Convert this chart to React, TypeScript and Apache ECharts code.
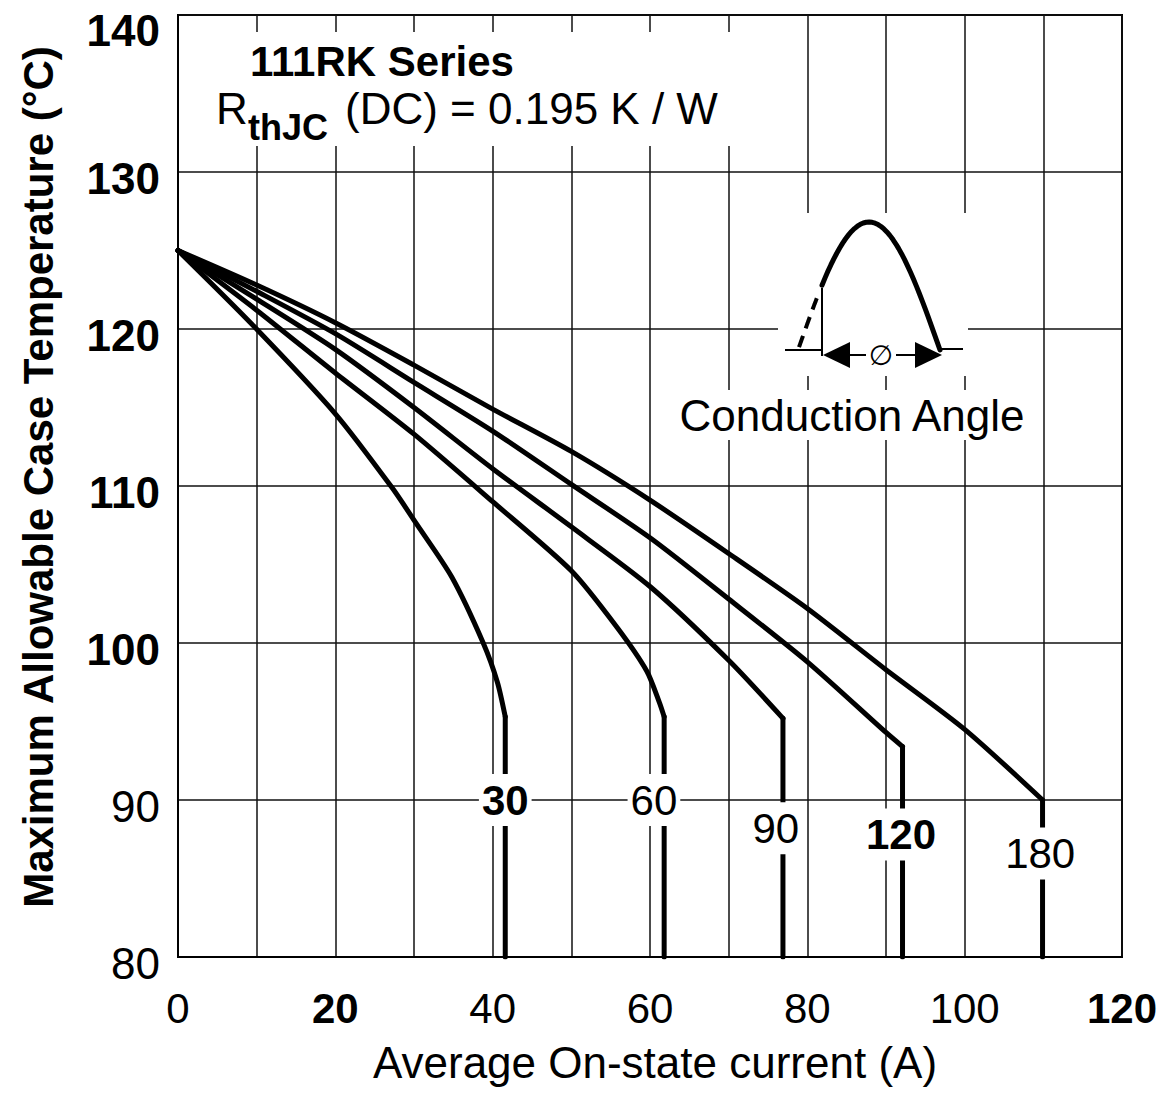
import React, { useEffect, useRef } from "react";
import * as echarts from "echarts";

// ---- data ----
const curveNames = ["30", "60", "90", "120", "180"];
const curve30 = [[0, 125], [9.4, 120.3], [20, 114.6], [27.2, 109.9], [30.3, 107.6], [34.8, 104.2], [38.8, 100.0], [40.6, 97.5], [41.6, 95.3]];
const curve60 = [[0, 125], [10, 121.2], [20, 117.2], [30, 113.3], [40, 109.0], [50, 104.6], [55.8, 101.0], [59.6, 98.2], [61.2, 96.2], [61.8, 95.3]];
const curve90 = [[0, 125], [10, 121.9], [20, 118.7], [30, 115.0], [40, 111.1], [50, 107.4], [60, 103.6], [70, 98.9], [76.9, 95.2]];
const curve120 = [[0, 125], [10, 122.4], [20, 119.7], [30, 116.6], [40, 113.5], [50, 110.1], [60, 106.7], [70, 102.8], [80, 98.8], [90, 94.3], [92.1, 93.4]];
const curve180 = [[0, 125], [10, 122.8], [20, 120.4], [30, 117.7], [40, 114.9], [50, 112.2], [60, 109.1], [70, 105.7], [80, 102.2], [90, 98.3], [100, 94.5], [109.9, 90]];
const curves = [curve30, curve60, curve90, curve120, curve180];
const labelX = [41.6, 60.5, 76.0, 91.9, 109.6];
const labelY = [90, 90, 88.2, 87.8, 86.6];
const labelBold = [true, false, false, true, false];

const xMin = 0, xMax = 120, xStep = 10, xLabelStep = 20;
const yMin = 80, yMax = 140, yStep = 10;
const xBoldTicks = [20, 120];
const yBoldTicks = [140, 130, 120, 110, 100];

const titleLine1 = "111RK Series";
const titleR = "R";
const titleSub = "thJC";
const titleRest = "(DC) = 0.195 K / W";
const insetLabel = "Conduction Angle";
const xName = "Average On-state current (A)";
const yName = "Maximum Allowable Case Temperature (°C)";

const FONT = "'Liberation Sans', Arial, Helvetica, sans-serif";

function sinePts(x0: number, x1: number, zeroL: number, zeroR: number, base: number, amp: number) {
  const pts: number[][] = [];
  const n = 40;
  for (let i = 0; i <= n; i++) {
    const x = x0 + ((x1 - x0) * i) / n;
    const y = base - amp * Math.sin((Math.PI * (x - zeroL)) / (zeroR - zeroL));
    pts.push([x, y]);
  }
  return pts;
}

export default function App() {
  const ref = useRef<HTMLDivElement>(null);
  useEffect(() => {
    if (!ref.current) return;
    const chart = echarts.init(ref.current, undefined, { renderer: "svg" });

    const series: any[] = [];
    curves.forEach((c, i) => {
      const last = c[c.length - 1];
      series.push({
        type: "line",
        name: curveNames[i],
        data: c,
        showSymbol: false,
        symbol: "none",
        smooth: 0.25,
        z: 3,
        lineStyle: { color: "#000", width: 5, join: "round", cap: "round" },
        markPoint: {
          symbol: "rect",
          symbolSize: 1,
          itemStyle: { color: "rgba(0,0,0,0)" },
          z: 5,
          label: {
            show: true,
            position: "inside",
            formatter: curveNames[i],
            color: "#000",
            fontSize: 42,
            fontFamily: FONT,
            fontWeight: labelBold[i] ? "bold" : "normal",
            backgroundColor: "#fff",
            padding: [6, 3, 4, 3],
          },
          data: [{ coord: [labelX[i], labelY[i]] }],
        },
      });
      // vertical drop to the bottom of the axis
      series.push({
        type: "line",
        name: curveNames[i] + "-drop",
        data: [last, [last[0], yMin]],
        showSymbol: false,
        symbol: "none",
        z: 3,
        lineStyle: { color: "#000", width: 5, cap: "round" },
      });
    });

    const zeroL = 798, zeroR = 940, base = 350, amp = 128;

    chart.setOption({
      animation: false,
      backgroundColor: "#fff",
      grid: { left: 178, right: 51, top: 15, bottom: 139, show: true, borderColor: "#000", borderWidth: 2, backgroundColor: "#fff" },
      xAxis: {
        type: "value",
        min: xMin,
        max: xMax,
        interval: xStep,
        axisLine: { show: true, lineStyle: { color: "#000", width: 2 } },
        axisTick: { show: false },
        splitLine: { show: true, lineStyle: { color: "#111", width: 1.5 } },
        axisLabel: {
          margin: 30,
          color: "#000",
          fontFamily: FONT,
          fontSize: 42,
          formatter: (v: number) => (v % xLabelStep === 0 ? (xBoldTicks.includes(v) ? `{b|${v}}` : `{n|${v}}`) : ""),
          rich: {
            b: { fontSize: 42, fontWeight: "bold", fontFamily: FONT, color: "#000" },
            n: { fontSize: 42, fontWeight: "normal", fontFamily: FONT, color: "#000" },
          },
        },
      },
      yAxis: {
        type: "value",
        min: yMin,
        max: yMax,
        interval: yStep,
        axisLine: { show: true, lineStyle: { color: "#000", width: 2 } },
        axisTick: { show: false },
        splitLine: { show: true, lineStyle: { color: "#111", width: 1.5 } },
        axisLabel: {
          margin: 18,
          color: "#000",
          fontFamily: FONT,
          fontSize: 44,
          formatter: (v: number) => {
            if (v === yMax) return `{t|${v}}`;
            return yBoldTicks.includes(v) ? `{b|${v}}` : `{n|${v}}`;
          },
          rich: {
            t: { fontSize: 44, fontWeight: "bold", fontFamily: FONT, color: "#000", padding: [30, 0, 0, 0] },
            b: { fontSize: 44, fontWeight: "bold", fontFamily: FONT, color: "#000", padding: [12, 0, 0, 0] },
            n: { fontSize: 44, fontWeight: "normal", fontFamily: FONT, color: "#000", padding: [12, 0, 0, 0] },
          },
        },
      },
      graphic: [
        // title block
        { type: "rect", z: 50, shape: { x: 181, y: 32, width: 552, height: 114 }, style: { fill: "#fff" } },
        { type: "text", z: 51, x: 250, y: 61, style: { text: titleLine1, font: `bold 42px ${FONT}`, fill: "#000", verticalAlign: "middle", align: "left" } },
        { type: "text", z: 51, x: 216, y: 108, style: { text: titleR, font: `normal 44px ${FONT}`, fill: "#000", verticalAlign: "middle", align: "left" } },
        { type: "text", z: 51, x: 248, y: 127, style: { text: titleSub, font: `bold 36px ${FONT}`, fill: "#000", verticalAlign: "middle", align: "left" } },
        { type: "text", z: 51, x: 345, y: 108, style: { text: titleRest, font: `normal 44px ${FONT}`, fill: "#000", verticalAlign: "middle", align: "left" } },
        // inset
        { type: "rect", z: 50, shape: { x: 778, y: 213, width: 190, height: 163 }, style: { fill: "#fff" } },
        { type: "polyline", z: 52, shape: { points: sinePts(822, 940, zeroL, zeroR, base, amp) }, style: { stroke: "#000", lineWidth: 5, fill: null, lineCap: "round", lineJoin: "round" } },
        { type: "polyline", z: 52, shape: { points: sinePts(799, 819, zeroL, zeroR, base, amp) }, style: { stroke: "#000", lineWidth: 4, fill: null, lineDash: [12, 8] } },
        { type: "line", z: 52, shape: { x1: 822, y1: 288, x2: 822, y2: 356 }, style: { stroke: "#000", lineWidth: 2 } },
        { type: "line", z: 52, shape: { x1: 785, y1: 350, x2: 822, y2: 350 }, style: { stroke: "#000", lineWidth: 2 } },
        { type: "line", z: 52, shape: { x1: 940, y1: 349, x2: 963, y2: 349 }, style: { stroke: "#000", lineWidth: 2 } },
        { type: "polygon", z: 52, shape: { points: [[823, 355], [850, 342], [850, 368]] }, style: { fill: "#000" } },
        { type: "polygon", z: 52, shape: { points: [[942, 355], [915, 342], [915, 368]] }, style: { fill: "#000" } },
        { type: "line", z: 52, shape: { x1: 850, y1: 355, x2: 866, y2: 355 }, style: { stroke: "#000", lineWidth: 2 } },
        { type: "line", z: 52, shape: { x1: 896, y1: 355, x2: 915, y2: 355 }, style: { stroke: "#000", lineWidth: 2 } },
        { type: "text", z: 52, x: 881, y: 355, style: { text: "\u2205", font: `normal 28px 'DejaVu Sans', ${FONT}`, fill: "#000", align: "center", verticalAlign: "middle" } },
        { type: "rect", z: 50, shape: { x: 672, y: 390, width: 362, height: 50 }, style: { fill: "#fff" } },
        { type: "text", z: 51, x: 852, y: 415, style: { text: insetLabel, font: `normal 44px ${FONT}`, fill: "#000", align: "center", verticalAlign: "middle" } },
        // axis names
        { type: "text", z: 51, x: 655, y: 1062, style: { text: xName, font: `normal 44px ${FONT}`, fill: "#000", align: "center", verticalAlign: "middle" } },
        { type: "text", z: 51, x: 38, y: 477, rotation: Math.PI / 2, style: { text: yName, font: `bold 42px ${FONT}`, fill: "#000", align: "center", verticalAlign: "middle" } },
      ],
      series,
    });
    return () => chart.dispose();
  }, []);
  return <div ref={ref} style={{ position: "fixed", left: 0, top: 0, width: 1173, height: 1096, background: "#fff" }} />;
}
